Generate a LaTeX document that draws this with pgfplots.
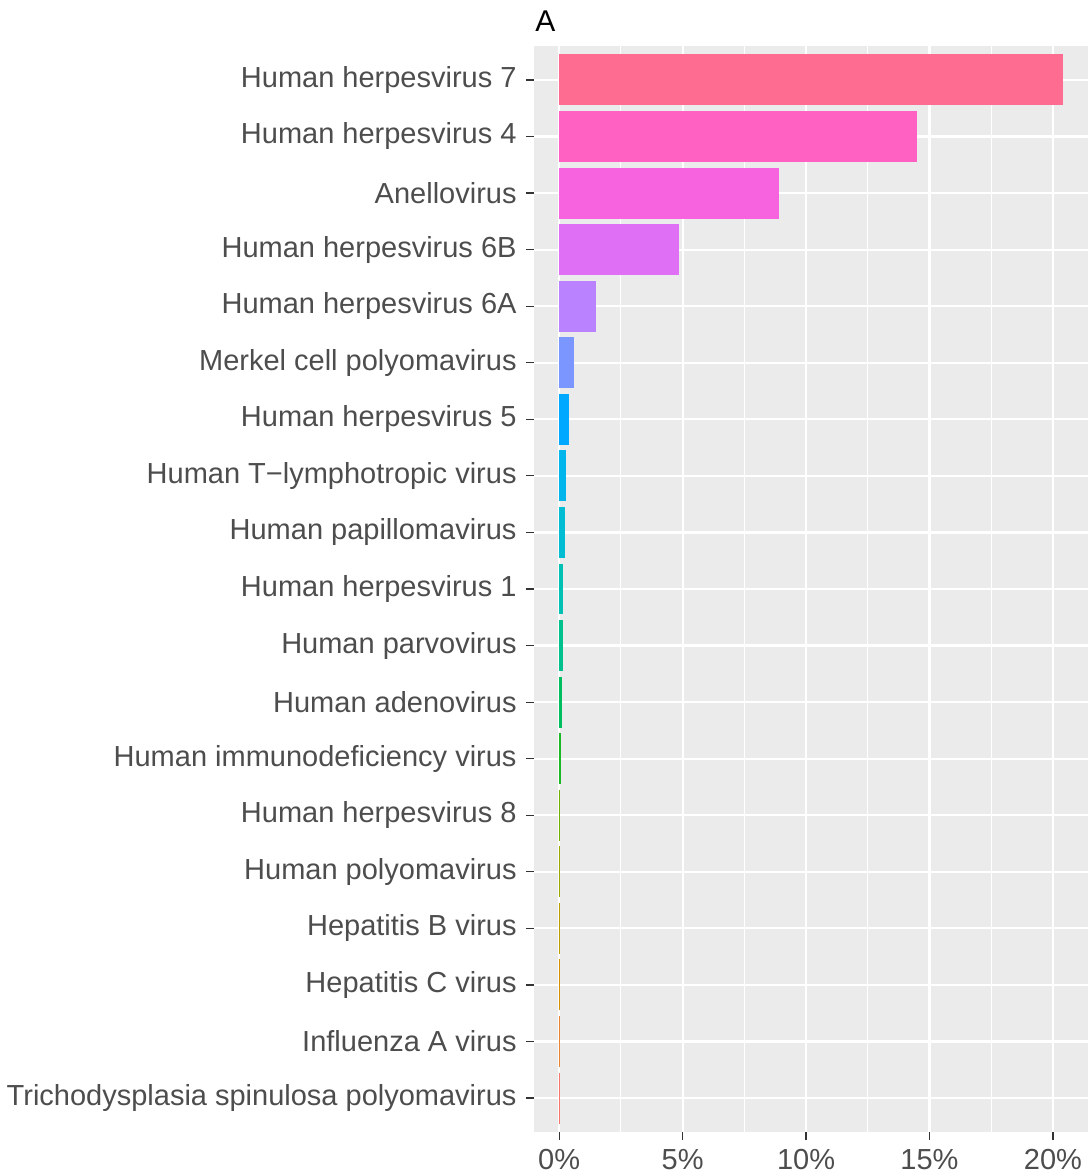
\documentclass[border=0pt]{standalone}
\usepackage{fontspec}
\setmainfont{Liberation Sans}
\usepackage{pgfplots}
\pgfplotsset{compat=1.18}
\definecolor{ggbg}{HTML}{EBEBEB}
\definecolor{grey30}{HTML}{4D4D4D}
\definecolor{grey20}{HTML}{333333}
\definecolor{c0}{HTML}{F8766D}
\definecolor{c1}{HTML}{EA8331}
\definecolor{c2}{HTML}{D69100}
\definecolor{c3}{HTML}{BD9C00}
\definecolor{c4}{HTML}{9EA700}
\definecolor{c5}{HTML}{72B000}
\definecolor{c6}{HTML}{1AB826}
\definecolor{c7}{HTML}{00BD5F}
\definecolor{c8}{HTML}{00C08D}
\definecolor{c9}{HTML}{00C0B3}
\definecolor{c10}{HTML}{00BDD3}
\definecolor{c11}{HTML}{00B4EC}
\definecolor{c12}{HTML}{00A8FF}
\definecolor{c13}{HTML}{7B96FF}
\definecolor{c14}{HTML}{BA82FF}
\definecolor{c15}{HTML}{DF70F6}
\definecolor{c16}{HTML}{F763DE}
\definecolor{c17}{HTML}{FF61C3}
\definecolor{c18}{HTML}{FF6C91}
\newcommand{\lblfont}{\fontsize{14.5pt}{17pt}\selectfont}
\begin{document}
\begin{tikzpicture}
\begin{axis}[
  name=ax,
  scale only axis,
  width=277pt, height=543pt,
  xmin=-1.02, xmax=21.42,
  ymin=-0.6, ymax=18.6,
  axis background/.style={fill=ggbg},
  axis line style={draw=none},
  tick align=outside,
  xtick pos=bottom, ytick pos=left,
  xtick={0,5,10,15,20},
  xticklabels={0\%,5\%,10\%,15\%,20\%},
  minor xtick={2.5,7.5,12.5,17.5},
  ytick={0,...,18},
  yticklabels={
    Trichodysplasia spinulosa polyomavirus,
    Influenza A virus,
    Hepatitis C virus,
    Hepatitis B virus,
    Human polyomavirus,
    Human herpesvirus 8,
    Human immunodeficiency virus,
    Human adenovirus,
    Human parvovirus,
    Human herpesvirus 1,
    Human papillomavirus,
    Human T−lymphotropic virus,
    Human herpesvirus 5,
    Merkel cell polyomavirus,
    Human herpesvirus 6A,
    Human herpesvirus 6B,
    Anellovirus,
    Human herpesvirus 4,
    Human herpesvirus 7},
  major tick length=4pt,
  minor tick length=0pt,
  major tick style={color=grey20, line width=0.6pt},
  xmajorgrids, ymajorgrids, xminorgrids,
  major grid style={white, line width=1.1pt},
  minor grid style={white, line width=0.55pt},
  yticklabel style={font=\lblfont, text=grey30, inner sep=0pt, xshift=-4.5pt},
  xticklabel style={font=\lblfont, text=grey30, inner sep=0pt, anchor=north, yshift=-4.5pt},
  /pgf/number format/assume math mode=true,
  every axis plot/.append style={xbar, bar width=0.9, bar shift=0pt, draw=none},
]
\addplot[fill=c18] coordinates {(20.4,18)};
\addplot[fill=c17] coordinates {(14.5,17)};
\addplot[fill=c16] coordinates {(8.9,16)};
\addplot[fill=c15] coordinates {(4.85,15)};
\addplot[fill=c14] coordinates {(1.48,14)};
\addplot[fill=c13] coordinates {(0.60,13)};
\addplot[fill=c12] coordinates {(0.38,12)};
\addplot[fill=c11] coordinates {(0.28,11)};
\addplot[fill=c10] coordinates {(0.22,10)};
\addplot[fill=c9] coordinates {(0.16,9)};
\addplot[fill=c8] coordinates {(0.15,8)};
\addplot[fill=c7] coordinates {(0.13,7)};
\addplot[fill=c6] coordinates {(0.08,6)};
\addplot[fill=c5] coordinates {(0.05,5)};
\addplot[fill=c4] coordinates {(0.04,4)};
\addplot[fill=c3] coordinates {(0.03,3)};
\addplot[fill=c2] coordinates {(0.015,2)};
\addplot[fill=c1] coordinates {(0.01,1)};
\addplot[fill=c0] coordinates {(0.005,0)};
\end{axis}
\node[anchor=base west, inner sep=0pt, font=\fontsize{15pt}{17pt}\selectfont] at ([xshift=0.5pt, yshift=7pt]ax.north west) {A};
\pgfresetboundingbox
\path ([xshift=-267pt, yshift=-21pt]ax.south west) rectangle ([yshift=23pt]ax.north east);
\end{tikzpicture}
\end{document}
